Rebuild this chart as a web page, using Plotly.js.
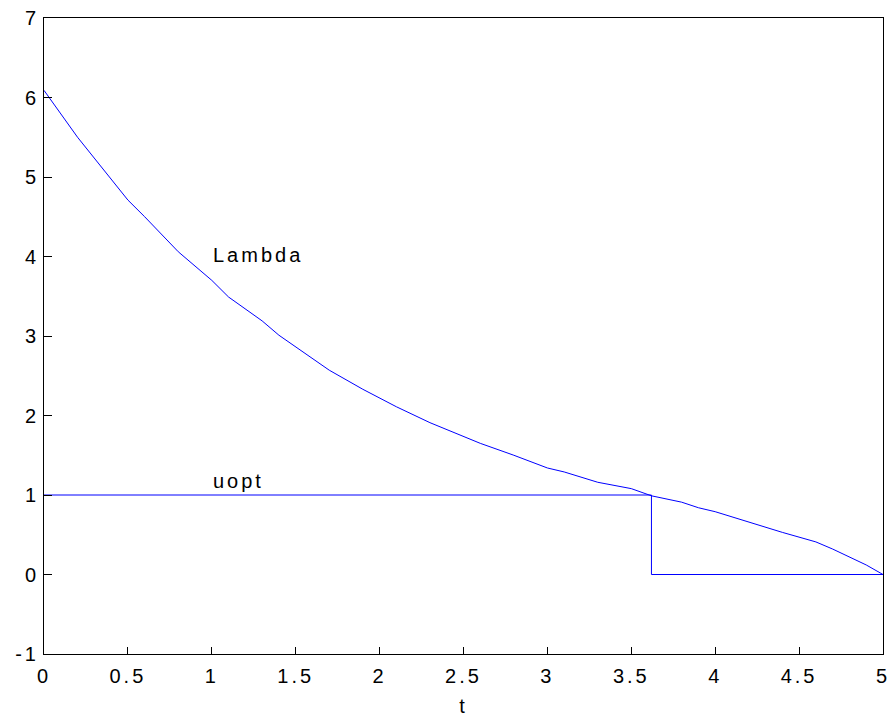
<!DOCTYPE html>
<html>
<head>
<meta charset="utf-8">
<script src="https://cdn.plot.ly/plotly-3.0.1.min.js"></script>
<style>
html,body{margin:0;padding:0;background:#fff;}
#chart{width:891px;height:718px;}
#chart text{letter-spacing:3px;}
</style>
</head>
<body>
<div id="chart"></div>
<script>
const lambdaT = [0, 0.2, 0.5, 0.6, 0.8, 1.0, 1.1, 1.3, 1.4, 1.7, 1.9, 2.0, 2.1, 2.3, 2.6, 2.8, 2.9, 3.0, 3.1, 3.3, 3.5, 3.62, 3.8, 3.9, 4.0, 4.2, 4.4, 4.6, 4.7, 4.9, 5.0];
const lambdaV = [6.09, 5.5, 4.71, 4.5, 4.06, 3.70, 3.49, 3.19, 3.01, 2.57, 2.33, 2.22, 2.11, 1.91, 1.65, 1.50, 1.42, 1.34, 1.29, 1.16, 1.08, 0.99, 0.91, 0.84, 0.79, 0.66, 0.53, 0.41, 0.32, 0.12, 0.0];
const uoptT = [0, 3.62, 3.62, 5];
const uoptV = [1, 1, 0, 0];
const xTicks = [0, 0.5, 1, 1.5, 2, 2.5, 3, 3.5, 4, 4.5, 5];
const xTickLabels = ['0', '0.5', '1', '1.5', '2', '2.5', '3', '3.5', '4', '4.5', '5'];
const yTicks = [-1, 0, 1, 2, 3, 4, 5, 6, 7];
const yTickLabels = ['-1', '0', '1', '2', '3', '4', '5', '6', '7'];
const labelTexts = ['Lambda', 'uopt'];
const labelT = [1.0, 1.0];
const labelV = [4.02, 1.17];
const labelShift = [8, 5];

const font = {family: 'Liberation Sans, Arial, Helvetica, sans-serif', size: 20, color: '#000'};
const traces = [
  {x: lambdaT, y: lambdaV, mode: 'lines', line: {color: '#0000ff', width: 1}, hoverinfo: 'none'},
  {x: uoptT, y: uoptV, mode: 'lines', line: {color: '#0000ff', width: 1}, hoverinfo: 'none'}
];
const layout = {
  width: 891, height: 718,
  margin: {l: 44, r: 8, t: 18, b: 64},
  showlegend: false,
  paper_bgcolor: '#fff', plot_bgcolor: '#fff',
  font: font,
  xaxis: {
    range: [0, 5], tickvals: xTicks, ticktext: xTickLabels,
    ticks: 'inside', ticklen: 7, tickcolor: '#000', showgrid: false, zeroline: false,
    showline: true, linecolor: '#000', linewidth: 1, mirror: true,
    ticklabelstandoff: 4,
    title: {text: 't', font: font, standoff: 12}
  },
  yaxis: {
    range: [-1, 7], tickvals: yTicks, ticktext: yTickLabels,
    ticks: 'inside', ticklen: 8, tickcolor: '#000', showgrid: false, zeroline: false,
    showline: true, linecolor: '#000', linewidth: 1, mirror: true
  },
  annotations: labelTexts.map((txt, i) => ({x: labelT[i], y: labelV[i], text: txt, showarrow: false, xanchor: 'left', yanchor: 'middle', xshift: labelShift[i], font: font}))
};
Plotly.newPlot('chart', traces, layout, {staticPlot: true, displayModeBar: false});
</script>
</body>
</html>
